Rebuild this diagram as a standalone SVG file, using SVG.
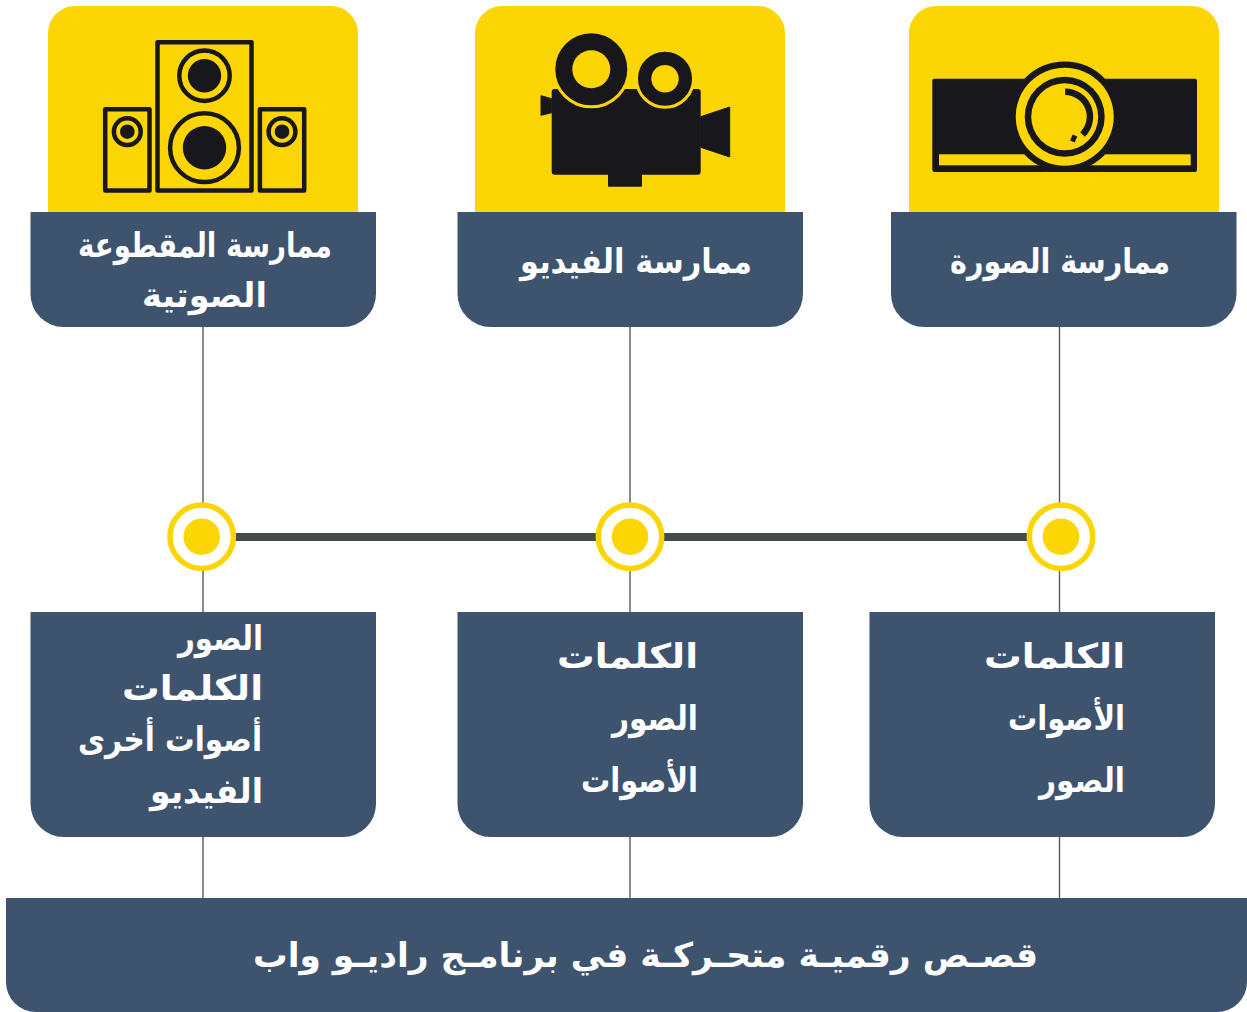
<svg xmlns="http://www.w3.org/2000/svg" width="1247" height="1012" viewBox="0 0 1247 1012">
<style>
.y{fill:#fcd504}.b{fill:#3d536e}.k{fill:#18181c}
.o{fill:none;stroke:#18181c;stroke-linejoin:round}
.t{font-family:"DejaVu Sans",sans-serif;font-weight:700;font-size:34px;fill:#fff}
.m{text-anchor:middle}.e{text-anchor:end}
.c{fill:none;stroke:#5c5c5c;stroke-width:1.4}
.d{fill:#fff;stroke:#fcd504;stroke-width:5.500}
.r{fill:#18181c;stroke:#fcd504;stroke-width:3}
</style>
<defs>
<path id="card" class="y" d="M0 213V33a27 27 0 0 1 27-27H283a27 27 0 0 1 27 27V213Z"/>
<path id="head" class="b" d="M0 212H345.500V294a33 33 0 0 1-33 33H33a33 33 0 0 1-33-33Z"/>
<path id="low" class="b" d="M0 612H345.500V804a33 33 0 0 1-33 33H33a33 33 0 0 1-33-33Z"/>
</defs>
<rect width="1247" height="1012" fill="#fff"/>
<g id="connectors">
<path class="c" d="M203 327V612M203 837V898M630 327V612M630 837V898M1059.500 327V612M1059.500 837V898"/>
<rect x="230" y="533" width="800" height="8" fill="#454a4a"/>
</g>
<g id="card-audio">
<use href="#card" x="48"/>
<g class="o" stroke-width="4.500">
<rect x="157.500" y="42.200" width="94" height="148.300"/>
<rect x="105.200" y="109.200" width="44.300" height="81.300"/>
<rect x="259.900" y="109.200" width="44.300" height="81.300"/>
<circle cx="204.500" cy="75.700" r="25.200"/>
<circle cx="204.500" cy="147.700" r="34.400"/>
<circle cx="127.300" cy="131.700" r="13.400"/>
<circle cx="282" cy="131.700" r="13.400"/>
</g>
<circle class="k" cx="204.500" cy="75.700" r="16.700"/>
<circle class="k" cx="204.500" cy="147.700" r="21.700"/>
<circle class="k" cx="127.300" cy="131.700" r="7.300"/>
<circle class="k" cx="282" cy="131.700" r="7.300"/>
<use href="#head" x="30.500"/>
<text class="t m" x="205" y="257" direction="rtl" textLength="254" lengthAdjust="spacingAndGlyphs">ممارسة المقطوعة</text>
<text class="t m" x="204.500" y="307" direction="rtl" textLength="125" lengthAdjust="spacingAndGlyphs">الصوتية</text>
</g>
<g id="card-video">
<use href="#card" x="475"/>
<rect class="k" x="551.700" y="89" width="149" height="85.700" rx="3"/>
<rect class="k" x="608" y="170" width="34" height="16.700" rx="1"/>
<path class="k" stroke="#18181c" stroke-linejoin="round" d="M700.700 116.700L729.700 107V157L700.700 147.300ZM551.700 98.700L541 95.700V115.300L551.700 112.700Z"/>
<circle class="r" cx="591.300" cy="69.300" r="37.500"/>
<circle class="r" cx="665" cy="78.700" r="28.500"/>
<circle class="y" cx="591.300" cy="69.300" r="19"/>
<circle class="y" cx="665" cy="78.700" r="13.700"/>
<use href="#head" x="457.500"/>
<text class="t m" x="636" y="273" direction="rtl" textLength="232" lengthAdjust="spacingAndGlyphs">ممارسة الفيديو</text>
</g>
<g id="card-image">
<use href="#card" x="909"/>
<rect class="k" x="932.300" y="78.700" width="264.700" height="93.300" rx="2"/>
<rect class="y" x="939" y="154.300" width="251.700" height="11"/>
<circle class="k" cx="1064.700" cy="116.700" r="55.300"/>
<circle class="y" cx="1064.700" cy="116.700" r="49"/>
<circle class="k" cx="1064.700" cy="116.700" r="40"/>
<circle class="y" cx="1064.700" cy="116.700" r="33.500"/>
<path d="M1065.200 91.700A25 25 0 0 1 1082.500 134.500" fill="none" stroke="#18181c" stroke-width="6.500"/>
<path d="M1075 135.500L1072.300 141.500" fill="none" stroke="#18181c" stroke-width="5"/>
<use href="#head" x="891"/>
<text class="t m" x="1060" y="273" direction="rtl" textLength="220" lengthAdjust="spacingAndGlyphs">ممارسة الصورة</text>
</g>
<g id="dot-left"><circle class="d" cx="201.700" cy="536.700" r="31.700"/><circle class="y" cx="201.700" cy="536.700" r="18.300"/></g>
<g id="dot-middle"><circle class="d" cx="630" cy="536.700" r="31.700"/><circle class="y" cx="630" cy="536.700" r="18.300"/></g>
<g id="dot-right"><circle class="d" cx="1061" cy="536.700" r="31.700"/><circle class="y" cx="1061" cy="536.700" r="18.300"/></g>
<g id="list-left">
<use href="#low" x="30.500"/>
<text class="t e" x="263" y="650" textLength="85" lengthAdjust="spacingAndGlyphs">الصور</text>
<text class="t e" x="263" y="700" textLength="141" lengthAdjust="spacingAndGlyphs">الكلمات</text>
<text class="t e" x="262" y="751" textLength="184" lengthAdjust="spacingAndGlyphs">أصوات أخرى</text>
<text class="t e" x="263" y="803" textLength="113" lengthAdjust="spacingAndGlyphs">الفيديو</text>
</g>
<g id="list-middle">
<use href="#low" x="457.500"/>
<text class="t e" x="698" y="668" textLength="141" lengthAdjust="spacingAndGlyphs">الكلمات</text>
<text class="t e" x="698" y="730" textLength="86" lengthAdjust="spacingAndGlyphs">الصور</text>
<text class="t e" x="698" y="792" textLength="117" lengthAdjust="spacingAndGlyphs">الأصوات</text>
</g>
<g id="list-right">
<use href="#low" x="869.500"/>
<text class="t e" x="1125" y="668" textLength="141" lengthAdjust="spacingAndGlyphs">الكلمات</text>
<text class="t e" x="1125" y="730" textLength="117" lengthAdjust="spacingAndGlyphs">الأصوات</text>
<text class="t e" x="1125" y="792" textLength="86" lengthAdjust="spacingAndGlyphs">الصور</text>
</g>
<g id="footer">
<path class="b" d="M6 898H1247V982a30 30 0 0 1-30 30H36a30 30 0 0 1-30-30Z"/>
<text class="t m" x="645.500" y="967" direction="rtl" textLength="785" lengthAdjust="spacingAndGlyphs">قصـص رقميـة متحـركـة في برنامـج راديـو واب</text>
</g>
</svg>
